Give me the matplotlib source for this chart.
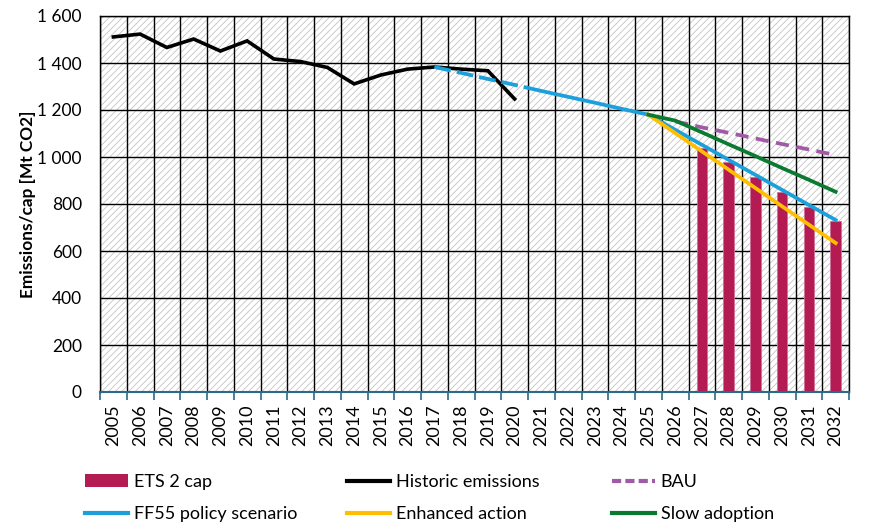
import matplotlib
matplotlib.use("Agg")
import matplotlib.pyplot as plt
import matplotlib.ticker as mticker
from matplotlib.patches import Patch, Rectangle
from matplotlib.lines import Line2D

# ---- data ----
years = list(range(2005, 2033))
hist_years = list(range(2005, 2021))
hist_vals = [1511, 1523, 1466, 1502, 1451, 1494, 1417, 1406, 1381, 1311, 1349, 1374, 1383, 1374, 1367, 1247]
cap_years = list(range(2027, 2033))
cap_vals = [1037, 977, 914, 851, 789, 728]
ff55_dash_years = list(range(2017, 2022))
ff55_dash_vals = [1383, 1358, 1332, 1307, 1281]
ff55_years = list(range(2021, 2033))
ff55_vals = [1281, 1256, 1231, 1205, 1180, 1116, 1052, 988, 924, 860, 796, 732]
scen_years = list(range(2025, 2033))
enh_vals = [1180, 1102, 1024, 946, 868, 790, 712, 634]
slow_vals = [1180, 1155, 1105, 1054, 1004, 953, 903, 852]
bau_years = list(range(2026, 2033))
bau_vals = [1152, 1126, 1103, 1079, 1055, 1032, 1008]

C_CAP = "#b31b52"
C_HIST = "#000000"
C_BAU = "#a05aa6"
C_FF55 = "#1ca0dc"
C_ENH = "#ffbf00"
C_SLOW = "#0a7a30"
C_AXIS = "#2a6a8a"

plt.rcParams["font.family"] = ["Lato", "DejaVu Sans"]
plt.rcParams["hatch.linewidth"] = 0.6

pos = {y: i for i, y in enumerate(years)}


def px(ys):
    return [pos[y] for y in ys]


fig = plt.figure(figsize=(8.75, 5.28), dpi=100)
ax = fig.add_axes([100 / 875, 1 - 392 / 528, 749 / 875, 376 / 528])

# hatched plot area
ax.set_facecolor("white")
ax.add_patch(Rectangle((0, 0), 1, 1, transform=ax.transAxes, facecolor="white",
                       edgecolor="#c4c4c4", hatch="/////", lw=0, zorder=0))

# grid: vertical lines at category boundaries, horizontal every 200
for k in range(len(years) + 1):
    ax.axvline(k - 0.5, color="black", lw=1.0, zorder=1)
for v in range(200, 1601, 200):
    ax.axhline(v, color="black", lw=1.0, zorder=1)

ax.bar(px(cap_years), cap_vals, width=0.4, color=C_CAP, edgecolor="#cf7098", lw=0.6, zorder=2)
ax.plot(px(hist_years), hist_vals, color=C_HIST, lw=2.6, zorder=3, solid_joinstyle="miter")
ax.plot(px(bau_years), bau_vals, color=C_BAU, lw=2.7, ls=(0, (3.5, 2.0)), zorder=3)
ax.plot(px(ff55_dash_years), ff55_dash_vals, color=C_FF55, lw=2.7, ls=(0, (4.5, 1.6)), zorder=4)
ax.plot(px(ff55_years), ff55_vals, color=C_FF55, lw=2.7, zorder=4)
ax.plot(px(scen_years), enh_vals, color=C_ENH, lw=2.7, zorder=4)
ax.plot(px(scen_years), slow_vals, color=C_SLOW, lw=2.7, zorder=5)

ax.set_xlim(-0.5, len(years) - 0.5)
ax.set_ylim(0, 1600)

ax.set_xticks(range(len(years)))
ax.set_xticklabels([str(y) for y in years], rotation=90, fontsize=13)
ax.set_xticks([k - 0.5 for k in range(len(years) + 1)], minor=True)
ax.tick_params(axis="x", which="major", length=0, pad=9)
ax.tick_params(axis="x", which="minor", length=6, width=1.2, color=C_AXIS, direction="out")

ax.yaxis.set_major_locator(mticker.MultipleLocator(200))
ax.yaxis.set_major_formatter(mticker.FuncFormatter(lambda v, p: f"{int(v):,}".replace(",", " ")))
ax.tick_params(axis="y", length=0, pad=13, labelsize=12.5)
ax.set_ylabel("Emissions/cap [Mt CO2]", fontsize=12.4, fontweight="bold", labelpad=1)

for side in ["top", "right", "left"]:
    ax.spines[side].set_color("black")
    ax.spines[side].set_linewidth(1.0)
ax.spines["bottom"].set_color(C_AXIS)
ax.spines["bottom"].set_linewidth(1.5)
ax.spines["bottom"].set_zorder(6)

# legend in three fixed columns
cols = [
    [Patch(facecolor=C_CAP, label="ETS 2 cap"),
     Line2D([], [], color=C_FF55, lw=3, label="FF55 policy scenario")],
    [Line2D([], [], color=C_HIST, lw=3, label="Historic emissions"),
     Line2D([], [], color=C_ENH, lw=3, label="Enhanced action")],
    [Line2D([], [], color=C_BAU, lw=3, ls=(0, (2.2, 1.0)), label="BAU"),
     Line2D([], [], color=C_SLOW, lw=3, label="Slow adoption")],
]
xs = [85, 347, 612]
for handles, x in zip(cols, xs):
    fig.legend(handles=handles, loc="upper left", bbox_to_anchor=(x / 875, 1 - 474 / 528),
               frameon=False, fontsize=13, handlelength=2.4, handletextpad=0.3,
               labelspacing=0.9, borderpad=0, borderaxespad=0)

fig.savefig("out.png", dpi=100, facecolor="white")
